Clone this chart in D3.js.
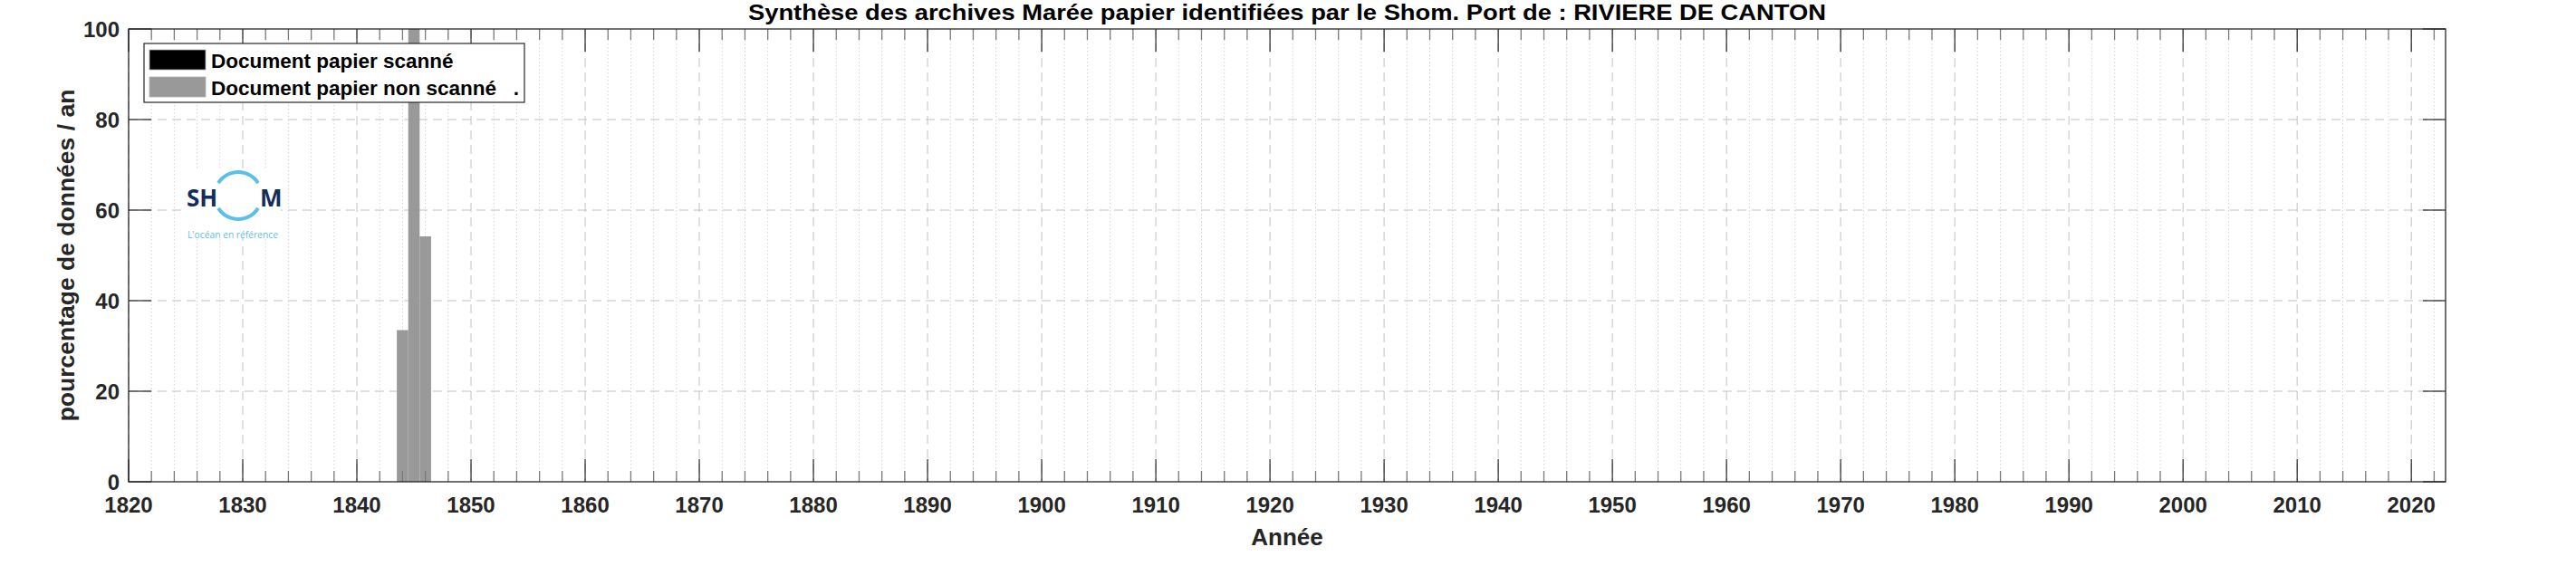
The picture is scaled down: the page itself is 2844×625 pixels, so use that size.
<!DOCTYPE html>
<html>
<head>
<meta charset="utf-8">
<script src="https://cdn.jsdelivr.net/npm/d3@7"></script>
<style>
  html, body { margin: 0; padding: 0; background: #fff; }
  svg { display: block; }
  text { font-family: "Liberation Sans", Arial, Helvetica, sans-serif; }
</style>
</head>
<body>
<svg id="chart" width="2844" height="625"></svg>
<script>
// ---- data ----
const years = [1844, 1845, 1846];
const scanned = [0, 0, 0];
const notScanned = [33.5, 100, 54.2];
const xDomain = [1820, 2023];
const yDomain = [0, 100];
const xMajorTicks = d3.range(1820, 2021, 10);
const xMinorTicks = d3.range(1822, 2023, 2).filter(v => v % 10 !== 0);
const yTicks = [0, 20, 40, 60, 80, 100];
const titleText = "Synthèse des archives Marée papier identifiées par le Shom. Port de : RIVIERE DE CANTON";
const xLabel = "Année";
const yLabel = "pourcentage de données / an";
const legendLabels = ["Document papier scanné", "Document papier non scanné   ."];

// ---- layout ----
const L = 142, R = 2700, T = 32, B = 532;
const svg = d3.select("#chart");
svg.append("rect").attr("width", 2844).attr("height", 625).attr("fill", "#fff");

const x = d3.scaleLinear().domain(xDomain).range([L, R]);
const y = d3.scaleLinear().domain(yDomain).range([B, T]);

// grid
const grid = svg.append("g");
grid.selectAll(".gmin").data(xMinorTicks).join("line")
  .attr("x1", d => x(d)).attr("x2", d => x(d)).attr("y1", T).attr("y2", B)
  .attr("stroke", "#d4d4d4").attr("stroke-width", 1).attr("stroke-dasharray", "1.5,2.5");
grid.selectAll(".gmaj").data(xMajorTicks).join("line")
  .attr("x1", d => x(d)).attr("x2", d => x(d)).attr("y1", T).attr("y2", B)
  .attr("stroke", "#c2c2c2").attr("stroke-width", 1).attr("stroke-dasharray", "10,6");
grid.selectAll(".gy").data(yTicks.filter(v => v > 0 && v < 100)).join("line")
  .attr("x1", L).attr("x2", R).attr("y1", d => y(d)).attr("y2", d => y(d))
  .attr("stroke", "#c2c2c2").attr("stroke-width", 1).attr("stroke-dasharray", "10,6");

// bars (stacked: scanned black at bottom, non-scanned gray on top)
const bw = x(1) - x(0);
const bars = svg.append("g");
bars.selectAll(".bs").data(years.map((yr, i) => ({yr, v: scanned[i]}))).join("rect")
  .attr("x", d => x(d.yr) - bw / 2).attr("width", bw)
  .attr("y", d => y(d.v)).attr("height", d => y(0) - y(d.v))
  .attr("fill", "#000");
bars.selectAll(".bn").data(years.map((yr, i) => ({yr, s: scanned[i], v: notScanned[i]}))).join("rect")
  .attr("x", d => x(d.yr) - bw / 2).attr("width", bw)
  .attr("y", d => y(d.s + d.v)).attr("height", d => y(d.s) - y(d.s + d.v))
  .attr("fill", "#999999");

// ticks
const ticks = svg.append("g");
const majLen = 25, minLen = 12;
ticks.selectAll(".tminb").data(xMinorTicks).join("line")
  .attr("x1", d => x(d)).attr("x2", d => x(d)).attr("y1", B).attr("y2", B - minLen)
  .attr("stroke", "#7a7a7a").attr("stroke-width", 1.3);
ticks.selectAll(".tmint").data(xMinorTicks).join("line")
  .attr("x1", d => x(d)).attr("x2", d => x(d)).attr("y1", T).attr("y2", T + minLen)
  .attr("stroke", "#7a7a7a").attr("stroke-width", 1.3);
ticks.selectAll(".tmajb").data(xMajorTicks).join("line")
  .attr("x1", d => x(d)).attr("x2", d => x(d)).attr("y1", B).attr("y2", B - majLen)
  .attr("stroke", "#262626").attr("stroke-width", 1.2);
ticks.selectAll(".tmajt").data(xMajorTicks).join("line")
  .attr("x1", d => x(d)).attr("x2", d => x(d)).attr("y1", T).attr("y2", T + majLen)
  .attr("stroke", "#262626").attr("stroke-width", 1.2);
ticks.selectAll(".tyl").data(yTicks).join("line")
  .attr("x1", L).attr("x2", L + majLen).attr("y1", d => y(d)).attr("y2", d => y(d))
  .attr("stroke", "#262626").attr("stroke-width", 1.2);
ticks.selectAll(".tyr").data(yTicks).join("line")
  .attr("x1", R).attr("x2", R - majLen).attr("y1", d => y(d)).attr("y2", d => y(d))
  .attr("stroke", "#262626").attr("stroke-width", 1.2);

// axes box
svg.append("rect").attr("x", L).attr("y", T).attr("width", R - L).attr("height", B - T)
  .attr("fill", "none").attr("stroke", "#262626").attr("stroke-width", 1.3);

// tick labels
svg.append("g").selectAll("text").data(xMajorTicks).join("text")
  .attr("x", d => x(d)).attr("y", 566)
  .attr("text-anchor", "middle").attr("font-size", 24).attr("font-weight", "bold")
  .attr("fill", "#262626").text(d => d);
svg.append("g").selectAll("text").data(yTicks).join("text")
  .attr("x", L - 10).attr("y", d => y(d)).attr("dy", "0.36em")
  .attr("text-anchor", "end").attr("font-size", 24).attr("font-weight", "bold")
  .attr("fill", "#262626").text(d => d);

// axis labels
svg.append("text").attr("x", (L + R) / 2).attr("y", 602)
  .attr("text-anchor", "middle").attr("font-size", 26).attr("font-weight", "bold")
  .attr("fill", "#262626").text(xLabel);
svg.append("text").attr("transform", `translate(82,${(T + B) / 2}) rotate(-90)`)
  .attr("text-anchor", "middle").attr("font-size", 26.5).attr("font-weight", "bold")
  .attr("fill", "#262626").text(yLabel);

// title
svg.append("text").attr("x", (L + R) / 2).attr("y", 22)
  .attr("text-anchor", "middle").attr("font-size", 24).attr("font-weight", "bold")
  .attr("textLength", 1190).attr("lengthAdjust", "spacingAndGlyphs")
  .attr("fill", "#000").text(titleText);

// legend
const lg = svg.append("g");
lg.append("rect").attr("x", 159).attr("y", 48).attr("width", 420).attr("height", 65)
  .attr("fill", "#fff").attr("stroke", "#262626").attr("stroke-width", 1.2);
const legColors = ["#000000", "#999999"];
legendLabels.forEach((lab, i) => {
  lg.append("rect").attr("x", 165).attr("y", 55 + i * 30).attr("width", 62).attr("height", 22)
    .attr("fill", legColors[i]).attr("stroke", "#b0b0b0").attr("stroke-width", 0.8);
  lg.append("text").attr("x", 233).attr("y", 75 + i * 30)
    .attr("font-size", 22.5).attr("font-weight", "bold").attr("fill", "#000")
    .attr("xml:space", "preserve").style("white-space", "pre").text(lab);
});

// logo
const logo = svg.append("g");
logo.append("rect").attr("x", 200).attr("y", 188).attr("width", 110).attr("height", 74).attr("fill", "#fff");
const cx = 263, cy = 216, r = 26;
const arc = d3.arc().innerRadius(r - 2).outerRadius(r + 2);
logo.append("path").attr("transform", `translate(${cx},${cy})`)
  .attr("d", arc({startAngle: -Math.PI * 0.32, endAngle: Math.PI * 0.32})).attr("fill", "#5bc0e8");
logo.append("path").attr("transform", `translate(${cx},${cy})`)
  .attr("d", arc({startAngle: Math.PI * 0.68, endAngle: Math.PI * 1.32})).attr("fill", "#5bc0e8");
logo.append("text").attr("x", 206).attr("y", 228).attr("font-size", 26).attr("font-weight", "bold")
  .attr("fill", "#142d5c").style("font-family", "'Open Sans', 'Noto Sans', sans-serif").text("SH");
logo.append("text").attr("x", 287).attr("y", 228).attr("font-size", 26).attr("font-weight", "bold")
  .attr("fill", "#142d5c").style("font-family", "'Open Sans', 'Noto Sans', sans-serif").text("M");
logo.append("text").attr("x", 207).attr("y", 263).attr("font-size", 10.5)
  .attr("textLength", 100).attr("lengthAdjust", "spacingAndGlyphs")
  .attr("fill", "#5bc0e8").style("font-family", "'Open Sans', 'Noto Sans', sans-serif").text("L'océan en référence");
</script>
</body>
</html>
